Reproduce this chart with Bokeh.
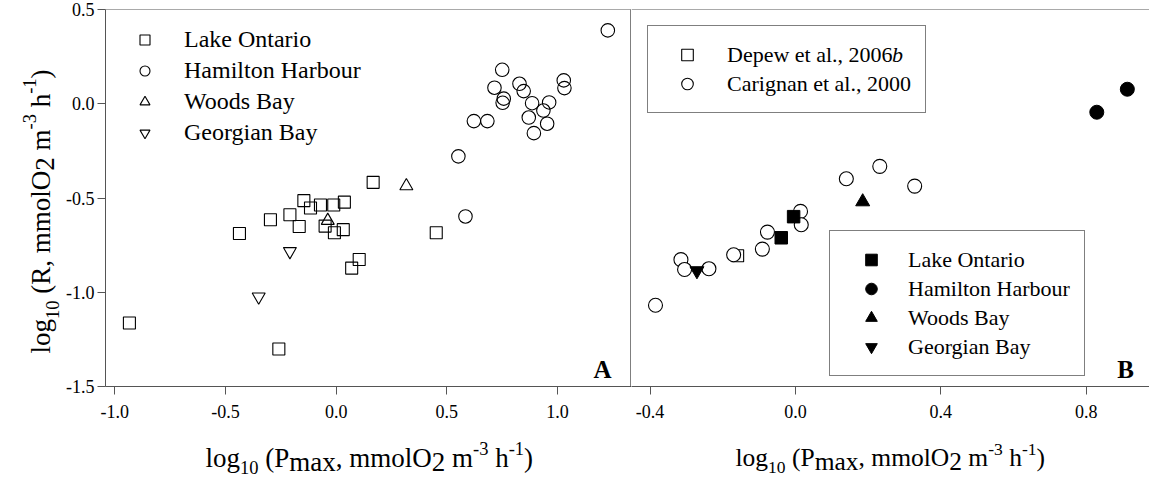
import math
from bokeh.plotting import figure
from bokeh.models import (Legend, LegendItem, Label, Span, FixedTicker,
                          PrintfTickFormatter, Range1d)
from bokeh.layouts import row, column
from bokeh.embed import file_html
from bokeh.resources import INLINE

FONT = "Liberation Serif"

# ---------------- Panel A data ----------------
lake_ontario_x = [0.167, -0.146, -0.116, -0.071, -0.011, 0.037, -0.209, -0.297, -0.167,
                  -0.050, -0.008, 0.032, -0.437, 0.104, 0.070, -0.934, -0.259, 0.452]
lake_ontario_y = [-0.417, -0.514, -0.553, -0.537, -0.537, -0.522, -0.589, -0.615, -0.651,
                  -0.649, -0.684, -0.668, -0.688, -0.826, -0.872, -1.163, -1.301, -0.684]
hamilton_x = [1.227, 0.750, 0.715, 0.757, 0.752, 0.828, 0.847, 1.028, 1.031, 0.885,
              0.962, 0.936, 0.870, 0.953, 0.622, 0.683, 0.893, 0.552, 0.584]
hamilton_y = [0.389, 0.180, 0.085, 0.027, 0.005, 0.106, 0.067, 0.124, 0.083, 0.003,
              0.007, -0.036, -0.073, -0.106, -0.092, -0.092, -0.156, -0.279, -0.598]
woods_x = [0.317, -0.038]
woods_y = [-0.436, -0.620]
georgian_x = [-0.209, -0.350]
georgian_y = [-0.783, -1.024]

# ---------------- Panel B data ----------------
depew_x = [-0.159]
depew_y = [-0.806]
carignan_x = [-0.385, -0.315, -0.305, -0.238, -0.170, -0.091, -0.077, 0.014, 0.016, 0.140, 0.232, 0.328]
carignan_y = [-1.069, -0.827, -0.879, -0.875, -0.801, -0.771, -0.681, -0.571, -0.642, -0.398, -0.332, -0.437]
b_lake_ontario_x = [-0.005, -0.039]
b_lake_ontario_y = [-0.599, -0.711]
b_hamilton_x = [0.829, 0.913]
b_hamilton_y = [-0.045, 0.077]
b_woods_x = [0.185]
b_woods_y = [-0.520]
b_georgian_x = [-0.271]
b_georgian_y = [-0.886]

xa_ticks = [-1.0, -0.5, 0.0, 0.5, 1.0]
xb_ticks = [-0.4, 0.0, 0.4, 0.8]
y_ticks = [-1.5, -1.0, -0.5, 0.0, 0.5]

# ---------------- layout constants (pixels) ----------------
TOTAL_W, TOTAL_H = 1149, 477
YLAB_W = 62                      # strip holding the y-axis title
PLOT_H = 431                     # height of the two panels
TOP, FRAME_H = 9, 377
BOTTOM = PLOT_H - TOP - FRAME_H
FRAME_LEFT = 105                 # global x of panel A's frame
DIVIDER = 631                    # global x of the A/B boundary
W_A = DIVIDER - YLAB_W
W_B = TOTAL_W - DIVIDER
FW_A, FW_B = DIVIDER - FRAME_LEFT, W_B
XA = (-1.042, 1.334)
XB = (-0.451, 0.974)
YR = (-1.5, 0.5)
AXIS_COL = "#555555"


def make_fig(width, xr, left):
    p = figure(width=width, height=PLOT_H, x_range=Range1d(*xr), y_range=Range1d(*YR),
               output_backend="svg", toolbar_location=None,
               min_border_left=left, min_border_right=0,
               min_border_top=TOP, min_border_bottom=BOTTOM,
               y_axis_location="left" if left else None)
    p.grid.visible = False
    p.outline_line_color = None
    p.background_fill_color = "white"
    p.border_fill_color = "white"
    return p


def text_canvas(width, height, xr, yr):
    p = figure(width=width, height=height, x_range=Range1d(*xr), y_range=Range1d(*yr),
               output_backend="svg", toolbar_location=None,
               x_axis_location=None, y_axis_location=None,
               min_border=0, min_border_left=0, min_border_right=0,
               min_border_top=0, min_border_bottom=0)
    p.grid.visible = False
    p.outline_line_color = None
    p.background_fill_color = "white"
    p.border_fill_color = "white"
    return p


def style_axis(ax, ticks):
    ax.ticker = FixedTicker(ticks=ticks)
    ax.formatter = PrintfTickFormatter(format="%.1f")
    ax.axis_line_color = AXIS_COL
    ax.major_tick_line_color = AXIS_COL
    ax.major_tick_out = 8
    ax.major_tick_in = 0
    ax.minor_tick_line_color = None
    ax.major_label_text_font = FONT
    ax.major_label_text_font_size = "18px"
    ax.major_label_text_color = "black"


pA = make_fig(W_A, XA, FRAME_LEFT - YLAB_W)
pB = make_fig(W_B, XB, 0)
style_axis(pA.xaxis[0], xa_ticks)
style_axis(pA.yaxis[0], y_ticks)
pA.yaxis[0].major_label_standoff = 3
pA.xaxis[0].major_label_standoff = 10
style_axis(pB.xaxis[0], xb_ticks)
pB.xaxis[0].major_label_standoff = 10

pA.add_layout(Span(location=YR[1], dimension="width", line_color=AXIS_COL, line_width=1))
pA.add_layout(Span(location=XA[1], dimension="height", line_color="black", line_width=2))
pB.add_layout(Span(location=YR[1], dimension="width", line_color=AXIS_COL, line_width=1))

# ---------------- Panel A glyphs ----------------
hollow = dict(fill_color=None, line_color="black", line_width=1.1)
rA_sq = pA.scatter(lake_ontario_x, lake_ontario_y, marker="square", size=12, **hollow)
rA_ci = pA.scatter(hamilton_x, hamilton_y, marker="circle", size=13.5, **hollow)
rA_tr = pA.scatter(woods_x, woods_y, marker="triangle", size=13, **hollow)
rA_it = pA.scatter(georgian_x, georgian_y, marker="inverted_triangle", size=13, **hollow)

legA = Legend(items=[LegendItem(label="Lake Ontario", renderers=[rA_sq]),
                     LegendItem(label="Hamilton Harbour", renderers=[rA_ci]),
                     LegendItem(label="Woods Bay", renderers=[rA_tr]),
                     LegendItem(label="Georgian Bay", renderers=[rA_it])],
              location=(27, 238), padding=10, margin=0, spacing=0,
              glyph_width=25, glyph_height=31, label_height=31, label_standoff=27,
              label_text_font=FONT, label_text_font_size="24px", label_text_color="black",
              border_line_color=None, background_fill_alpha=0)
pA.add_layout(legA, "center")

# ---------------- Panel B glyphs ----------------
rB_dep = pB.scatter(depew_x, depew_y, marker="square", size=12, **hollow)
rB_car = pB.scatter(carignan_x, carignan_y, marker="circle", size=14, fill_color="white",
                    line_color="black", line_width=1.1)
filled = dict(fill_color="black", line_color="black", line_width=1)
rB_lo = pB.scatter(b_lake_ontario_x, b_lake_ontario_y, marker="square", size=12.5, **filled)
rB_hh = pB.scatter(b_hamilton_x, b_hamilton_y, marker="circle", size=14, **filled)
rB_wb = pB.scatter(b_woods_x, b_woods_y, marker="triangle", size=14, **filled)
rB_gb = pB.scatter(b_georgian_x, b_georgian_y, marker="inverted_triangle", size=14, **filled)

legB1 = Legend(items=[LegendItem(label="Depew et al., 2006", renderers=[rB_dep]),
                      LegendItem(label="Carignan et al., 2000", renderers=[rB_car])],
               location=(16, 273), padding=14, margin=0, spacing=0,
               glyph_width=50, glyph_height=29, label_height=29, label_standoff=15,
               label_text_font=FONT, label_text_font_size="22px", label_text_color="black",
               border_line_color="black", border_line_width=1,
               background_fill_alpha=0)
legB2 = Legend(items=[LegendItem(label="Lake Ontario", renderers=[rB_lo]),
                      LegendItem(label="Hamilton Harbour", renderers=[rB_hh]),
                      LegendItem(label="Woods Bay", renderers=[rB_wb]),
                      LegendItem(label="Georgian Bay", renderers=[rB_gb])],
               location=(198, 10), padding=14, margin=0, spacing=0,
               glyph_width=54, glyph_height=29, label_height=29, label_standoff=10,
               label_text_font=FONT, label_text_font_size="22px", label_text_color="black",
               border_line_color="black", border_line_width=1,
               background_fill_color="white", background_fill_alpha=1)
pB.add_layout(legB1, "center")
pB.add_layout(legB2, "center")

# ---------------- text helpers ----------------
WIDTHS = {' ': 250, '(': 333, ')': 333, ',': 250, '-': 333, '.': 250,
          'a': 444, 'b': 500, 'c': 444, 'd': 500, 'e': 444, 'g': 500, 'h': 500, 'i': 278,
          'k': 500, 'l': 278, 'm': 778, 'n': 500, 'o': 500, 'p': 500, 'r': 333, 't': 278,
          'u': 500, 'w': 722, 'x': 500, 'P': 556, 'R': 667, 'O': 722, 'H': 722, 'D': 722,
          'C': 667, 'L': 611}


def tw(s, size):
    return sum(WIDTHS.get(c, 500) for c in s) / 1000.0 * size


def conv_b(sx, sy):
    return (XB[0] + (sx - DIVIDER) / FW_B * (XB[1] - XB[0]),
            YR[1] - (sy - TOP) / FRAME_H * (YR[1] - YR[0]))


def conv_a(sx, sy):
    return (XA[0] + (sx - FRAME_LEFT) / FW_A * (XA[1] - XA[0]),
            YR[1] - (sy - TOP) / FRAME_H * (YR[1] - YR[0]))


def rich_label(p, segs, sx0, sy0, main, small, vertical=False):
    """p is a text canvas whose data coordinates equal page pixels.
    segs: (text, kind, offset) with kind 'M' (main size) or 'S' (small size)."""
    pos = 0.0
    for text, kind, off in segs:
        size = main if kind == "M" else small
        stripped = text.lstrip(" ")
        pos += tw(text[:len(text) - len(stripped)], size)
        if vertical:
            sx, sy = sx0 + off, sy0 - pos
        else:
            sx, sy = sx0 + pos, sy0 + off
        p.add_layout(Label(x=sx, y=sy, text=stripped, text_font=FONT,
                           text_font_size=f"{size}px", text_color="black",
                           text_align="left", text_baseline="alphabetic",
                           angle=(math.pi / 2 if vertical else 0)))
        pos += tw(stripped, size)


xa_segs = [("log", "M", 0), ("10", "S", 10), (" (P", "M", 0), ("max", "M", 4),
           (", mmolO", "M", 0), ("2", "M", 4), (" m", "M", 0), ("-3", "S", -9),
           (" h", "M", 0), ("-1", "S", -9), (")", "M", 0)]
xb_segs = [("log", "M", 0), ("10", "S", 10), (" (P", "M", 0), ("max", "M", 4),
           (", mmolO", "M", 0), ("2", "M", 4), (" m", "M", 0), ("-3", "S", -8),
           (" h", "M", 0), ("-1", "S", -8), (")", "M", 0)]
y_segs = [("log", "M", 0), ("10", "S", 12), (" (R, mmolO", "M", 0), ("2", "M", 4),
          (" m", "M", 0), ("-3", "S", -11), (" h", "M", 0), ("-1", "S", -11),
          (")", "M", 0)]

# strip on the left for the y-axis title (data coords = page pixels)
pY = text_canvas(YLAB_W, TOTAL_H, (0, YLAB_W), (TOTAL_H, 0))
rich_label(pY, y_segs, 40, 353, 27, 18.5, vertical=True)

# strip at the bottom for the x-axis titles (data coords = page pixels)
pX = text_canvas(TOTAL_W - YLAB_W, TOTAL_H - PLOT_H, (YLAB_W, TOTAL_W), (TOTAL_H, PLOT_H))
rich_label(pX, xa_segs, 205, 457, 27, 18.5)
rich_label(pX, xb_segs, 735, 457, 25.5, 17.5)

# italic "b" after Depew legend entry
bx, by = conv_b(726 + tw("Depew et al., 2006", 22), 54)
pB.add_layout(Label(x=bx, y=by, text="b", text_font=FONT, text_font_size="22px",
                    text_color="black", text_font_style="italic",
                    text_align="left", text_baseline="middle"))

# panel letters
ax_, ay_ = conv_a(602, 369)
pA.add_layout(Label(x=ax_, y=ay_, text="A", text_font=FONT, text_font_size="25px",
                    text_color="black", text_font_style="bold",
                    text_align="center", text_baseline="alphabetic"))
bx_, by_ = conv_b(1125, 369)
pB.add_layout(Label(x=bx_, y=by_, text="B", text_font=FONT, text_font_size="25px",
                    text_color="black", text_font_style="bold",
                    text_align="center", text_baseline="alphabetic"))

layout = row(pY, column(row(pA, pB), pX))
open("out.html", "w").write(file_html(layout, INLINE))
